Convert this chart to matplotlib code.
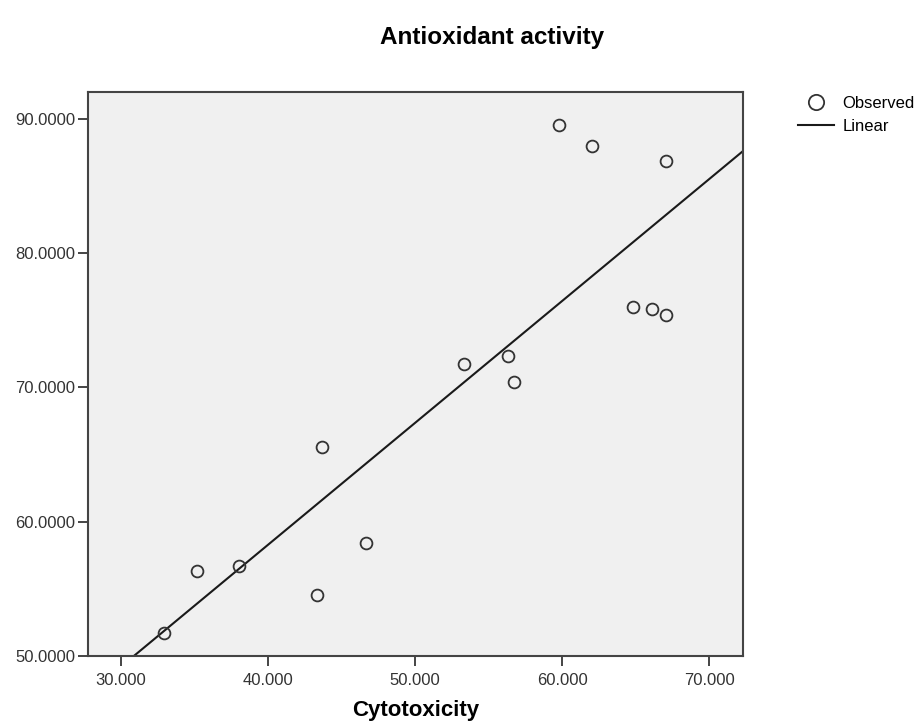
import numpy as np
import matplotlib
matplotlib.use("Agg")
import matplotlib.pyplot as plt
from matplotlib.lines import Line2D

plt.rcParams['font.family'] = ['Liberation Sans', 'DejaVu Sans']

cytotoxicity = [32.95, 35.19, 38.00, 43.33, 43.65, 46.67, 53.36, 56.35,
                56.71, 59.80, 62.04, 67.05, 64.81, 66.14, 67.07]
antioxidant = [51.74, 56.34, 56.72, 54.55, 65.57, 58.41, 71.77, 72.34,
               70.40, 89.55, 87.99, 86.89, 75.99, 75.87, 75.37]

x_ticks = [30, 40, 50, 60, 70]
y_ticks = [50, 60, 70, 80, 90]
x_range = (27.76, 72.3)
y_range = (50.0, 92.0)

fig = plt.figure(figsize=(9.23, 7.21), dpi=100)
ax = fig.add_axes([0.0953, 0.0902, 0.7097, 0.7822])
ax.set_facecolor('#f0f0f0')

# linear fit over the whole x range
slope, intercept = np.polyfit(cytotoxicity, antioxidant, 1)
xs = np.array(x_range)
ax.plot(xs, slope * xs + intercept, color='#1a1a1a', lw=1.5, zorder=2)

ax.plot(cytotoxicity, antioxidant, 'o', ms=8.5, mfc='none', mec='#333333',
        mew=1.3, zorder=3)

ax.set_xlim(*x_range)
ax.set_ylim(*y_range)
ax.set_xticks(x_ticks)
ax.set_yticks(y_ticks)
ax.set_xticklabels([f"{v:.3f}" for v in x_ticks])
ax.set_yticklabels([f"{v:.4f}" for v in y_ticks])

for s in ax.spines.values():
    s.set_color('#444444')
    s.set_linewidth(1.5)
ax.tick_params(direction='out', length=7, width=1.4, color='#444444',
               labelsize=12, labelcolor='#333333')
ax.tick_params(axis='y', pad=2)
ax.tick_params(axis='x', pad=5)

ax.set_xlabel("Cytotoxicity", fontsize=16, fontweight='bold', labelpad=9)
fig.text(0.533, 0.948, "Antioxidant activity", fontsize=17.5,
         fontweight='bold', ha='center', va='center')

handles = [
    Line2D([], [], marker='o', ls='none', ms=11, mfc='none', mec='#333333',
           mew=1.3, label='Observed'),
    Line2D([], [], color='#1a1a1a', lw=1.5, label='Linear'),
]
ax.legend(handles=handles, loc='upper left', bbox_to_anchor=(1.073, 1.005),
          frameon=False, fontsize=12, handlelength=2.2, handletextpad=0.48,
          labelspacing=0.5, borderaxespad=0)

fig.savefig("out.png", dpi=100)
